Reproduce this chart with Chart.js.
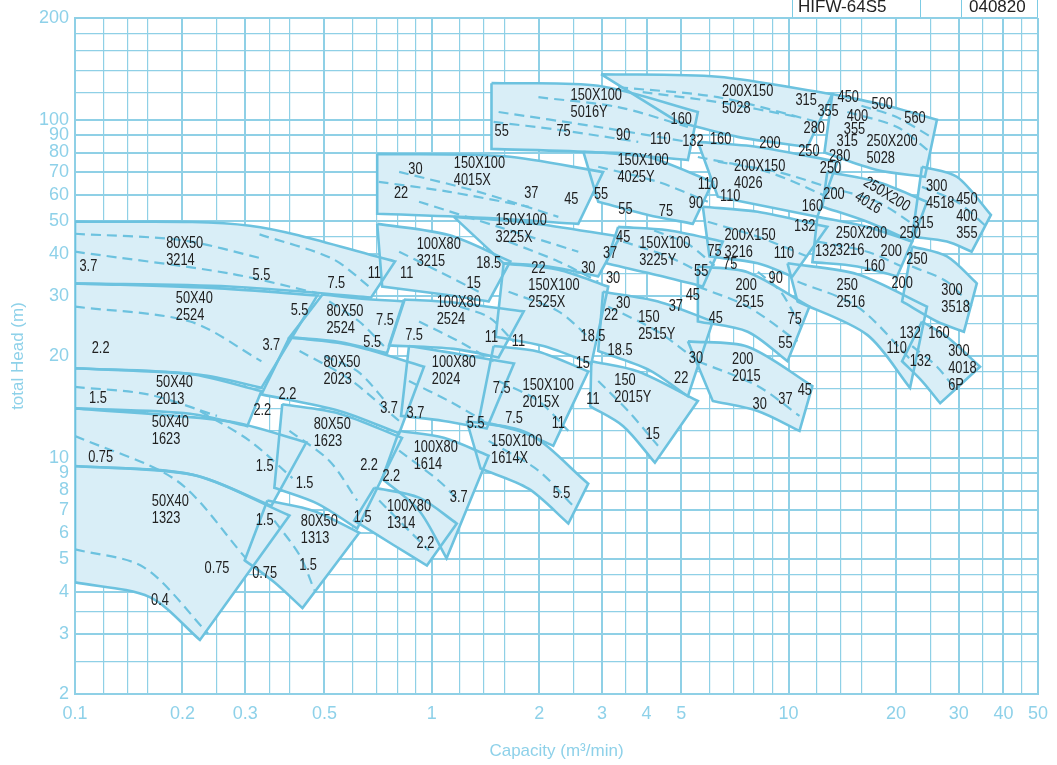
<!DOCTYPE html>
<html>
<head>
<meta charset="utf-8">
<script src="https://cdn.jsdelivr.net/npm/chart.js@4.4.1/dist/chart.umd.min.js"></script>
<style>
  html, body { margin: 0; padding: 0; background: #fff; }
  #wrap { position: relative; width: 1057px; height: 765px; overflow: hidden; }
  canvas { position: absolute; left: 0; top: 0; }
  .hdr { position: absolute; top: -2px; height: 19px; border-left: 1.5px solid #7ccbe4;
         font: 17px 'Liberation Sans Narrow', 'Liberation Sans', sans-serif; color: #222;
         line-height: 17px; padding-left: 5px; box-sizing: border-box; }
</style>
</head>
<body>
<div id="wrap">
  <canvas id="chart" width="1057" height="765"></canvas>
  <div class="hdr" style="left:792px;width:128px">HIFW-64S5</div>
  <div class="hdr" style="left:920px;width:41px"></div>
  <div class="hdr" style="left:961px;width:77px;border-right:1.5px solid #7ccbe4;padding-left:7px">040820</div>
</div>
<script>
// axis grid and labelled ticks
const xGrid = [0.1, 0.12, 0.14, 0.16, 0.2, 0.25, 0.3, 0.35, 0.4, 0.5, 0.6, 0.7, 0.8, 0.9, 1, 1.2, 1.4, 1.6, 2, 2.5, 3, 3.5, 4, 5, 6, 7, 8, 9, 10, 12, 14, 16, 20, 25, 30, 35, 40, 45, 50];
const xLabels = [0.1, 0.2, 0.3, 0.5, 1, 2, 3, 4, 5, 10, 20, 30, 40, 50];
const yGrid = [2, 2.5, 3, 3.5, 4, 4.5, 5, 6, 7, 8, 9, 10, 12, 14, 16, 18, 20, 25, 30, 35, 40, 45, 50, 60, 70, 80, 90, 100, 120, 140, 160, 180, 200];
const yLabels = [2, 3, 4, 5, 6, 7, 8, 9, 10, 20, 30, 40, 50, 60, 70, 80, 90, 100, 200];

// pump ranges: max impeller curve (left, middle, right) [capacity, head]
const topCurves = [
  [[0.1, 50], [0.309, 48.6], [0.789, 38.1]],
  [[0.1, 32.8], [0.254, 31.7], [0.478, 30.2]],
  [[0.1, 18.4], [0.21, 17.7], [0.333, 15.75]],
  [[0.1, 14.0], [0.271, 12.8], [0.445, 11.1]],
  [[0.1, 9.45], [0.214, 8.9], [0.399, 6.75]],
  [[0.494, 30.4], [0.626, 29.6], [0.836, 29.0]],
  [[0.399, 22.7], [0.587, 21.6], [0.951, 18.6]],
  [[0.381, 14.4], [0.551, 13.5], [0.825, 11.45]],
  [[0.346, 7.47], [0.469, 6.95], [0.626, 6.0]],
  [[0.703, 49.2], [1.116, 45.6], [1.66, 38.1]],
  [[0.836, 29.4], [1.153, 28.8], [1.81, 27.1]],
  [[0.863, 21.4], [1.116, 20.5], [1.70, 19.0]],
  [[0.81, 12.0], [1.08, 11.45], [1.443, 10.14]],
  [[0.69, 8.15], [0.921, 7.62], [1.175, 6.39]],
  [[0.703, 79.2], [1.6, 78.0], [3.02, 70.0]],
  [[1.153, 51.6], [1.866, 49.6], [3.37, 45.1]],
  [[1.59, 37.6], [2.263, 36.0], [3.122, 32.1]],
  [[1.49, 21.4], [1.99, 20.6], [2.745, 18.0]],
  [[1.253, 12.85], [1.866, 11.8], [2.745, 8.38]],
  [[1.47, 128.3], [2.927, 126.0], [5.568, 105.4]],
  [[2.66, 80.3], [3.91, 78.4], [6.13, 65.5]],
  [[3.329, 48.2], [4.591, 47.1], [6.54, 43.6]],
  [[3.02, 31.0], [4.305, 29.0], [6.13, 25.3]],
  [[2.80, 19.3], [3.786, 18.0], [5.568, 14.72]],
  [[2.98, 136.4], [6.332, 134.0], [13.26, 119.1]],
  [[5.568, 86.0], [8.188, 83.1], [13.7, 75.1]],
  [[5.75, 55.3], [8.188, 53.4], [12.84, 48.2]],
  [[5.568, 36.8], [7.678, 35.4], [11.44, 28.0]],
  [[5.221, 22.1], [7.678, 21.3], [11.66, 16.3]],
  [[13.26, 119.1], [18.89, 110.0], [26.05, 100]],
  [[12.84, 70.1], [17.71, 65.5], [24.43, 57.2]],
  [[12.04, 51.6], [16.61, 48.2], [22.2, 43.6]],
  [[9.93, 37.6], [15.58, 34.9], [24.43, 28.0]],
  [[23.65, 72.6], [29.62, 67.8], [36.9, 52.3]],
  [[22.2, 42.2], [27.78, 39.4], [33.69, 32.8]],
  [[23.65, 25.3], [27.78, 22.8], [34.4, 18.6]]
];

// min impeller curve (left, middle, right)
const bottomCurves = [
  [[0.1, 32.8], [0.271, 32.1], [0.676, 29.8]],
  [[0.1, 18.4], [0.224, 17.6], [0.333, 16.1]],
  [[0.1, 14.0], [0.21, 13.5], [0.304, 12.4]],
  [[0.1, 9.45], [0.214, 8.9], [0.355, 7.2]],
  [[0.1, 4.28], [0.162, 3.87], [0.224, 2.89]],
  [[0.399, 22.7], [0.551, 22.0], [0.749, 20.4]],
  [[0.333, 15.4], [0.551, 13.75], [0.81, 11.8]],
  [[0.362, 8.15], [0.478, 7.32], [0.618, 6.17]],
  [[0.299, 4.97], [0.362, 4.28], [0.434, 3.59]],
  [[0.726, 32.1], [1.08, 30.4], [1.443, 29.0]],
  [[0.759, 21.5], [1.153, 21.0], [1.539, 19.8]],
  [[0.82, 13.3], [1.08, 12.85], [1.425, 12.2]],
  [[0.726, 8.67], [0.921, 6.98], [1.10, 5.04]],
  [[0.606, 6.52], [0.783, 5.51], [0.969, 4.80]],
  [[0.703, 52.7], [1.443, 51.2], [2.574, 49.2]],
  [[1.59, 37.6], [2.122, 36.8], [2.927, 34.4]],
  [[1.51, 22.8], [2.056, 21.4], [2.80, 19.0]],
  [[1.353, 12.85], [1.75, 12.01], [2.19, 10.85]],
  [[1.37, 9.29], [1.866, 8.1], [2.414, 6.39]],
  [[1.47, 82], [2.927, 80], [5.221, 76]],
  [[2.927, 57.2], [4.037, 52.3], [5.39, 49.2]],
  [[3.08, 37.6], [4.45, 34.4], [5.75, 32.1]],
  [[2.927, 20.7], [4.037, 18.25], [5.221, 15.2]],
  [[2.78, 14.2], [3.44, 12.4], [4.22, 9.67]],
  [[4.896, 98.5], [7.2, 89.0], [11.29, 83.1]],
  [[6.332, 59.2], [8.732, 55.3], [12.04, 51.6]],
  [[6.0, 39.4], [8.188, 37.6], [10.25, 34.4]],
  [[5.568, 25.3], [7.678, 23.6], [9.93, 19.3]],
  [[6.13, 14.72], [8.188, 13.75], [10.73, 12.01]],
  [[12.6, 80.0], [17.71, 71.0], [24.1, 67.8]],
  [[12.44, 55.3], [16.61, 49.9], [22.2, 43.6]],
  [[11.66, 37.9], [15.58, 36.8], [20.14, 34.4]],
  [[10.59, 29.0], [16.61, 23.1], [21.9, 16.1]],
  [[22.2, 45.1], [27.78, 43.6], [32.6, 40.7]],
  [[20.8, 29.0], [26.05, 25.3], [31.0, 23.6]],
  [[20.8, 19.3], [23.65, 16.86], [26.6, 14.5]]
];

// motor output limit curves (dashed)
const dashedCurves = [
  [[0.1, 40.7], [0.271, 35.1], [0.484, 30.6]],
  [[0.329, 45.8], [0.526, 38.8], [0.68, 31.6]],
  [[0.1, 28.0], [0.21, 25.3], [0.333, 19.3]],
  [[0.1, 11.6], [0.193, 8.55], [0.30, 5.07]],
  [[0.1, 5.36], [0.156, 4.74], [0.236, 3.02]],
  [[0.224, 13.75], [0.309, 11.22], [0.407, 8.7]],
  [[0.516, 29.0], [0.626, 25.3], [0.734, 21.4]],
  [[0.426, 20.7], [0.587, 17.1], [0.81, 12.85]],
  [[0.399, 12.01], [0.516, 9.8], [0.618, 7.47]],
  [[0.362, 6.52], [0.426, 5.15], [0.469, 4.05]],
  [[0.81, 40.7], [1.046, 35.6], [1.353, 31.0]],
  [[0.921, 25.3], [1.19, 22.1], [1.49, 19.3]],
  [[0.863, 16.86], [1.116, 14.72], [1.40, 12.85]],
  [[0.81, 10.49], [1.046, 8.55], [1.19, 7.47]],
  [[0.712, 7.47], [0.863, 6.09], [0.982, 5.32]],
  [[0.81, 70.1], [1.353, 61.2], [2.263, 51.6]],
  [[0.921, 57.2], [1.539, 48.2], [2.574, 40.7]],
  [[1.641, 43.6], [2.263, 38.1], [2.927, 33.2]],
  [[1.641, 31.0], [2.263, 27.1], [2.83, 22.1]],
  [[1.539, 16.86], [1.99, 14.72], [2.414, 12.01]],
  [[1.443, 11.22], [1.99, 9.16], [2.49, 7.2]],
  [[1.539, 105.4], [2.927, 95.2], [5.221, 86.0]],
  [[1.99, 116.6], [3.329, 109.0], [5.221, 95.2]],
  [[2.927, 72.6], [4.305, 65.5], [5.937, 57.2]],
  [[3.44, 43.6], [4.591, 39.4], [5.937, 34.4]],
  [[3.122, 28.0], [4.305, 23.6], [5.568, 19.3]],
  [[2.927, 16.86], [3.55, 13.75], [4.305, 10.85]],
  [[3.329, 124.8], [6.332, 116.6], [12.04, 98.5]],
  [[5.568, 77.6], [8.732, 70.1], [12.84, 59.2]],
  [[5.937, 49.9], [8.188, 45.1], [11.29, 39.4]],
  [[5.568, 32.1], [7.678, 28.0], [10.59, 22.1]],
  [[5.568, 19.3], [8.188, 16.3], [10.73, 13.3]],
  [[14.61, 105.4], [20.14, 95.2], [24.9, 80.3]],
  [[12.84, 63.3], [17.71, 57.2], [22.91, 48.2]],
  [[12.04, 43.6], [16.61, 40.7], [20.8, 36.8]],
  [[10.59, 33.2], [15.58, 28.0], [22.2, 19.3]],
  [[23.65, 63.3], [29.62, 57.2], [35.93, 48.2]],
  [[22.2, 36.8], [27.78, 33.2], [32.6, 28.0]],
  [[22.2, 21.4], [26.05, 18.6], [29.62, 15.75]],
  [[1.49, 98.5], [2.26, 93.4], [3.79, 86.0]],
  [[3.9, 120.7], [6.33, 112.8], [10.6, 102.0]],
  [[0.71, 65.5], [1.12, 61.2], [1.87, 55.3]],
  [[6.33, 75.1], [9.3, 70.1], [12.84, 63.3]],
  [[0.1, 46.0], [0.2, 44.0], [0.33, 39.0]],
  [[0.1, 16.2], [0.16, 15.4], [0.25, 13.3]],
  [[0.5, 20.0], [0.62, 18.0], [0.75, 14.5]],
  [[1.2, 28.0], [1.45, 26.0], [1.7, 22.0]],
  [[4.2, 47.0], [5.2, 43.0], [6.2, 37.0]],
  [[16.0, 110.0], [20.0, 102.0], [25.5, 88.0]],
  [[8.2, 35.5], [9.5, 31.0], [10.8, 24.5]]
];

// pump model names and where they sit
const modelNames = [
  ['80X50', '3214'], ['50X40', '2524'], ['50X40', '2013'], ['50X40', '1623'], ['50X40', '1323'],
  ['80X50', '2524'], ['80X50', '2023'], ['80X50', '1623'], ['80X50', '1313'],
  ['100X80', '3215'], ['100X80', '2524'], ['100X80', '2024'], ['100X80', '1614'], ['100X80', '1314'],
  ['150X100', '4015X'], ['150X100', '3225X'], ['150X100', '2525X'], ['150X100', '2015X'], ['150X100', '1614X'],
  ['150X100', '5016Y'], ['150X100', '4025Y'], ['150X100', '3225Y'], ['150', '2515Y'], ['150', '2015Y'],
  ['200X150', '5028'], ['200X150', '4026'], ['200X150', '3216'], ['200', '2515'], ['200', '2015'],
  ['250X200', '5028'], ['250X200', '4016'], ['250X200', '3216'], ['250', '2516'],
  ['300', '4518'], ['300', '3518'], ['300', '4018', '6P']
];
const modelAt = [
  [0.203, 40.7], [0.216, 28.0], [0.19, 15.75], [0.185, 12.0], [0.185, 7.0],
  [0.571, 25.6], [0.56, 18.0], [0.526, 11.8], [0.484, 6.1],
  [1.046, 40.2], [1.19, 27.1], [1.153, 18.0], [1.026, 10.1], [0.863, 6.75],
  [1.36, 70.1], [1.78, 47.6], [2.2, 30.4], [2.12, 15.4], [1.73, 10.5],
  [2.89, 111.2], [3.91, 71.6], [4.5, 40.7], [4.06, 24.5], [3.48, 16.0],
  [7.68, 114.3], [8.3, 68.8], [7.8, 42.8], [7.6, 30.4], [7.44, 18.4],
  [19.5, 81.4], [18.3, 57.2], [16.0, 43.6], [14.6, 30.4],
  [26.0, 60.0], [28.7, 29.4], [30.0, 18.4]
];
const rotatedModel = 30;

// motor output (kW) marks
const kwText = [
  '3.7', '5.5', '7.5', '11', '11', '5.5', '7.5', '7.5', '5.5', '2.2', '3.7', '2.2', '2.2', '1.5',
  '3.7', '3.7', '0.75', '1.5', '1.5', '2.2', '2.2', '3.7', '1.5', '1.5', '0.75', '0.75', '1.5', '0.4', '2.2',
  '30', '22', '37', '45', '55', '18.5', '15', '22', '30', '11', '11', '7.5', '7.5', '11', '5.5', '5.5',
  '15', '18.5', '11', '15',
  '55', '75', '90', '110', '132', '160', '160', '200', '55', '75', '90', '110', '110',
  '37', '45', '30', '22', '30', '18.5', '37', '45', '45', '30', '22', '75', '75', '55', '110', '90',
  '132', '160', '200', '315', '355', '450', '500', '560', '280', '250', '400', '355', '315', '280', '250',
  '250', '315', '450', '400', '355', '132', '200', '160', '250', '200', '75', '55', '30', '37', '45',
  '132', '160', '110', '132'
];
const kwAt = [
  [0.109, 36.8], [0.333, 34.6], [0.54, 32.8], [0.69, 35.1], [0.85, 35.1], [0.426, 27.3], [0.739, 25.5],
  [0.892, 23.0], [0.681, 21.9], [0.118, 21.1], [0.355, 21.4], [0.394, 15.4], [0.335, 13.75], [0.116, 15.0],
  [0.759, 14.0], [0.90, 13.5], [0.118, 10.0], [0.34, 9.4], [0.44, 8.4], [0.667, 9.45], [0.77, 8.8],
  [1.19, 7.6], [0.34, 6.52], [0.64, 6.65], [0.25, 4.7], [0.34, 4.55], [0.45, 4.8], [0.173, 3.79], [0.96, 5.57],
  [0.90, 71.1], [0.82, 60.4], [1.90, 60.4], [2.46, 57.9], [2.98, 60.0], [1.443, 37.6], [1.31, 32.8],
  [1.99, 36.3], [2.745, 36.3], [1.47, 22.6], [1.75, 22.1], [1.57, 16.0], [1.70, 13.1], [2.263, 12.6],
  [1.327, 12.6], [2.31, 7.85],
  [2.65, 19.0], [2.83, 22.8], [2.83, 14.9], [4.16, 11.7],
  [1.57, 92.0], [2.34, 92.0], [3.44, 90.0], [4.37, 87.2], [5.39, 86.0], [5.0, 100], [6.45, 87.2],
  [8.87, 84.8], [3.49, 54.4], [4.53, 53.4], [5.5, 56.4], [5.94, 64.2], [6.86, 59.2],
  [3.16, 40.2], [3.44, 44.9], [3.22, 33.8], [3.18, 26.3], [3.44, 28.6], [3.37, 20.7], [4.83, 28.0],
  [5.39, 30.1], [6.25, 25.8], [5.5, 19.6], [5.0, 17.1], [6.2, 40.7], [6.86, 37.3], [5.69, 35.6],
  [9.7, 40.2], [9.2, 33.8],
  [11.1, 48.2], [11.66, 55.3], [13.4, 60.0], [11.2, 114.3], [12.9, 105.4], [14.7, 116.6], [18.3, 110.5],
  [22.6, 100.7], [11.8, 94.2], [11.4, 80.3], [15.6, 102.1], [15.3, 93.4], [14.6, 86.0], [13.9, 77.6],
  [13.1, 71.6],
  [21.9, 46.1], [23.8, 49.2], [31.6, 58.1], [31.6, 51.6], [31.6, 46.1], [12.7, 40.7], [19.4, 40.7],
  [17.4, 36.8], [22.9, 38.6], [20.8, 32.8], [10.4, 25.7], [9.8, 21.8], [8.3, 14.4], [9.8, 14.9],
  [11.1, 15.75],
  [21.9, 23.3], [26.4, 23.3], [20.1, 21.0], [23.4, 19.3]
];

const lineColor = '#6cc2df';
const fillColor = '#d9eef7';
const gridColor = '#8fd0e6';
const tickColor = '#8ed1e9';
const textFont = "'Liberation Sans', Arial, sans-serif";

const pt = ([x, y]) => ({x, y});

const regionSets = topCurves.map((top, i) => {
  const bot = bottomCurves[i];
  const path = [top[0], top[1], top[2], top[2], bot[2], bot[2], bot[1], bot[0], bot[0], top[0]];
  return {
    data: path.map(pt),
    fill: 'shape',
    backgroundColor: fillColor,
    borderColor: lineColor,
    borderWidth: 2.6,
    tension: 0.3,
    pointRadius: 0,
    order: 2
  };
});

const dashSets = dashedCurves.map(c => ({
  data: c.map(pt),
  fill: false,
  borderColor: lineColor,
  borderWidth: 2.2,
  borderDash: [10, 6],
  tension: 0.3,
  pointRadius: 0,
  order: 1
}));

const drawNarrow = (ctx, text, x, y) => {
  ctx.save();
  ctx.translate(x, y);
  ctx.scale(0.8, 1);
  ctx.fillText(text, 0, 0);
  ctx.restore();
};

const labelPlugin = {
  id: 'pumpLabels',
  afterDatasetsDraw(chart) {
    const {ctx, scales: {x, y}} = chart;
    ctx.save();
    ctx.fillStyle = '#202020';
    ctx.font = '16px ' + textFont;
    ctx.textAlign = 'center';
    ctx.textBaseline = 'middle';
    kwText.forEach((t, i) => {
      drawNarrow(ctx, t, x.getPixelForValue(kwAt[i][0]), y.getPixelForValue(kwAt[i][1]));
    });
    modelNames.forEach((lines, i) => {
      const px = x.getPixelForValue(modelAt[i][0]);
      const py = y.getPixelForValue(modelAt[i][1]);
      const first = -(lines.length - 1) * 8.5;
      ctx.save();
      ctx.translate(px, py);
      if (i === rotatedModel) ctx.rotate(0.55);
      lines.forEach((t, k) => {
        ctx.save();
        ctx.translate(0, first + k * 17);
        ctx.scale(0.8, 1);
        ctx.textAlign = 'left';
        ctx.fillText(t, -ctx.measureText(lines[0]).width / 2, 0);
        ctx.restore();
      });
      ctx.restore();
    });
    ctx.restore();
  }
};

const gridWidth = (labels) => (c) => (c.tick && labels.includes(c.tick.value)) ? 2 : 1.2;

new Chart(document.getElementById('chart'), {
  type: 'line',
  data: {datasets: [...dashSets, ...regionSets]},
  options: {
    responsive: false,
    animation: false,
    events: [],
    layout: {padding: {top: 18, right: 17, left: 0, bottom: 0}},
    plugins: {
      legend: {display: false},
      tooltip: {enabled: false},
      filler: {drawTime: 'beforeDatasetsDraw'}
    },
    scales: {
      x: {
        type: 'logarithmic',
        min: 0.1,
        max: 50,
        afterBuildTicks: (s) => { s.ticks = xGrid.map(v => ({value: v})); },
        afterFit: (s) => { s.height = 71; },
        ticks: {
          autoSkip: false,
          maxRotation: 0,
          color: tickColor,
          padding: 9,
          font: {family: "'Liberation Sans Narrow', 'Liberation Sans', sans-serif", size: 18},
          callback: (v) => xLabels.includes(v) ? String(v) : ''
        },
        grid: {color: gridColor, lineWidth: gridWidth(xLabels), drawTicks: false},
        border: {color: gridColor, width: 2},
        title: {
          display: true,
          text: 'Capacity (m³/min)',
          color: tickColor,
          font: {family: "'Liberation Sans', sans-serif", size: 17},
          padding: {top: 0, bottom: 3}
        }
      },
      y: {
        type: 'logarithmic',
        min: 2,
        max: 200,
        afterBuildTicks: (s) => { s.ticks = yGrid.map(v => ({value: v})); },
        afterFit: (s) => { s.width = 75; },
        ticks: {
          autoSkip: false,
          color: tickColor,
          padding: 6,
          font: {family: "'Liberation Sans Narrow', 'Liberation Sans', sans-serif", size: 18},
          callback: (v) => yLabels.includes(v) ? String(v) : ''
        },
        grid: {color: gridColor, lineWidth: gridWidth(yLabels), drawTicks: false},
        border: {color: gridColor, width: 2},
        title: {
          display: true,
          text: 'total Head (m)',
          color: tickColor,
          font: {family: "'Liberation Sans', sans-serif", size: 17},
          padding: {top: 8, bottom: 0}
        }
      }
    }
  },
  plugins: [labelPlugin]
});
</script>
</body>
</html>
